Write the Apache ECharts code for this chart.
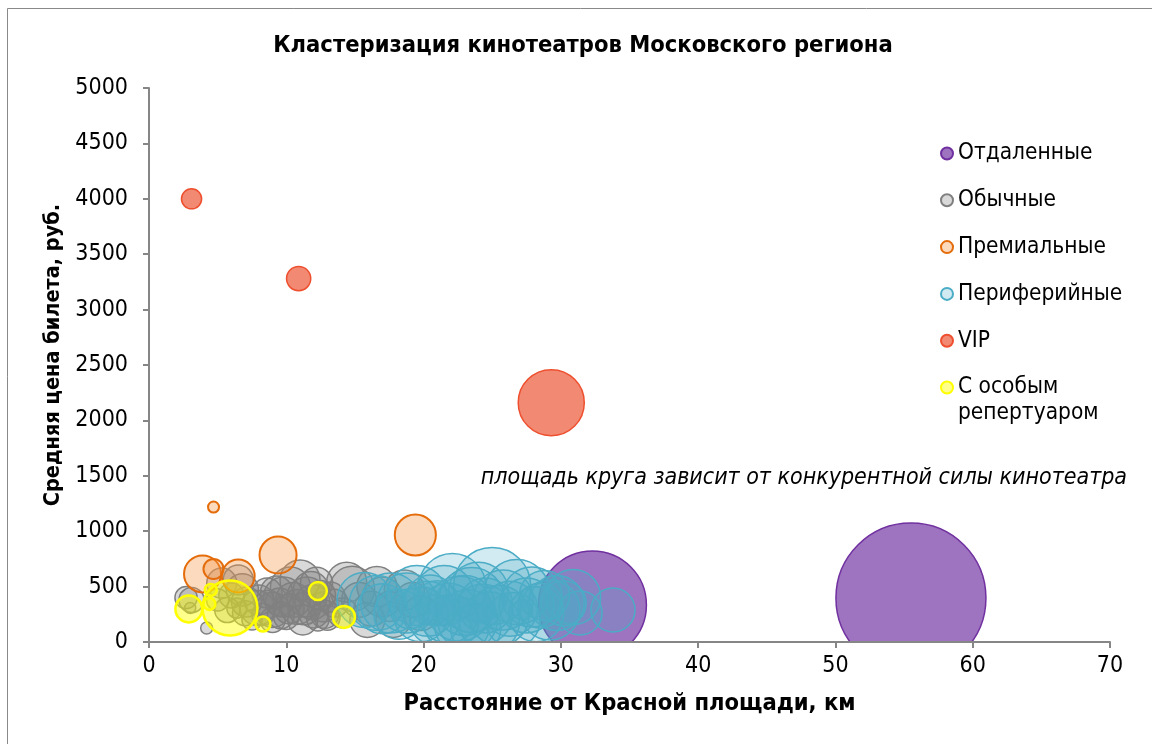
<!DOCTYPE html>
<html>
<head>
<meta charset="utf-8">
<script src="https://cdn.jsdelivr.net/npm/echarts@6/dist/echarts.min.js"></script>
<style>
html,body{margin:0;padding:0;background:#fff;}
#chart{width:1152px;height:744px;}
</style>
</head>
<body>
<div id="chart"></div>
<script>
// [distance km, avg ticket price rub, competitive strength]
const seriesNames = ['Отдаленные', 'Обычные', 'Премиальные', 'Периферийные', 'VIP', 'С особым репертуаром'];

const remote = [[32.3, 334, 51.8], [55.5, 397, 100]];

const ordinary = [
  [2.7, 400, 2.2], [3.1, 379, 2.8], [3.0, 307, 0.54], [4.2, 126, 0.64], [5.3, 532, 4.0], [6.5, 560, 4.0],
  [6.8, 470, 4.6], [7.1, 361, 4.0], [5.7, 289, 2.8], [6.4, 307, 1.8], [7.9, 307, 5.4], [8.6, 442, 4.0],
  [9.0, 289, 5.4], [9.8, 406, 7.1], [9.0, 199, 2.8], [8.3, 250, 2.2], [7.5, 200, 1.8], [10.3, 496, 7.1],
  [11.0, 560, 7.1], [11.5, 406, 7.1], [10.8, 316, 5.4], [12.0, 262, 4.0], [11.2, 199, 4.0], [10.0, 226, 2.8],
  [12.7, 316, 4.0], [13.2, 406, 4.0], [12.3, 200, 2.2], [11.8, 480, 5.4], [14.4, 540, 7.1], [14.8, 480, 9.0],
  [14.1, 262, 4.0], [13.5, 350, 3.5], [16.6, 500, 7.1], [17.0, 406, 7.1], [15.9, 199, 5.4], [17.8, 199, 5.4],
  [18.6, 469, 7.1], [16.2, 300, 5.4], [17.5, 320, 4.0], [19.2, 380, 5.4], [6.0, 420, 2.8], [5.0, 380, 2.2],
  [9.5, 360, 3.5], [12.5, 420, 4.0], [15.3, 380, 5.4], [19.8, 260, 5.4],
  [8.0, 380, 4.0], [9.3, 450, 4.6], [10.5, 380, 5.4], [11.3, 300, 4.6], [12.8, 250, 3.5], [10.2, 300, 4.0],
  [8.7, 340, 3.5], [11.9, 360, 5.4], [13.0, 220, 2.8], [9.6, 240, 3.2], [7.0, 260, 2.8], [12.2, 530, 4.6]
];

const premium = [[4.7, 1218, 0.54], [19.4, 966, 7.5], [9.4, 785, 6.1], [3.9, 614, 6.1], [4.7, 659, 1.8], [6.5, 596, 4.8]];

const peripheral = [
  [15.7, 379, 13.4], [16.6, 352, 13.4], [17.6, 352, 16], [18.8, 352, 16], [18.2, 250, 11.1], [19.5, 420, 16],
  [20.3, 300, 13.4], [20.8, 200, 11.1], [21.5, 420, 16], [22.1, 496, 20], [22.6, 300, 18.8], [23.2, 200, 16],
  [23.5, 380, 18.8], [24.0, 450, 16], [24.3, 250, 16], [25.0, 505, 26.4], [25.8, 380, 16], [26.3, 300, 13.4],
  [26.8, 450, 18.8], [27.2, 289, 1.8], [27.9, 406, 16], [28.2, 250, 13.4], [29.2, 289, 16], [29.7, 352, 13.4],
  [30.9, 406, 13.4], [31.4, 262, 8.6], [33.8, 289, 8.6], [21.0, 350, 9], [22.8, 150, 13.4], [24.8, 180, 16],
  [19.0, 300, 7.1], [30.2, 350, 9], [28.5, 330, 9],
  [17.0, 300, 11.1], [19.8, 250, 13.4], [21.8, 260, 16], [23.0, 330, 16], [24.5, 330, 13.4], [25.5, 240, 16],
  [26.5, 200, 13.4], [27.5, 330, 13.4], [22.0, 180, 13.4], [20.5, 380, 11.1], [28.8, 420, 11.1], [23.8, 120, 11.1]
];

const vip = [[3.1, 4000, 1.8], [10.9, 3280, 2.6], [29.3, 2160, 19.4]];

const special = [[2.9, 298, 3.2], [5.9, 307, 13.4], [4.5, 470, 0.64], [4.4, 343, 0.64], [12.3, 460, 1.44], [8.3, 162, 1], [14.2, 226, 2.15]];

const xTicks = {min: 0, max: 70, interval: 10};
const yTicks = {min: 0, max: 5000, interval: 500};

const FONT = "'DejaVu Sans Condensed', 'DejaVu Sans', sans-serif";
const sizeFn = v => Math.sqrt(v[2]) * 15;

const styles = [
  {color: 'rgba(112,48,160,0.68)', borderColor: '#7030A0', borderWidth: 1.5, opacity: 1},
  {color: 'rgba(128,128,128,0.3)', borderColor: '#808080', borderWidth: 1.5, opacity: 1},
  {color: 'rgba(247,150,70,0.35)', borderColor: '#E46C0A', borderWidth: 2, opacity: 1},
  {color: 'rgba(75,172,198,0.25)', borderColor: '#4BACC6', borderWidth: 1.5, opacity: 1},
  {color: '#F28A73', borderColor: '#EE4F2E', borderWidth: 1.5, opacity: 1},
  {color: 'rgba(255,255,0,0.45)', borderColor: '#FFFF00', borderWidth: 2.5, opacity: 1}
];
const datasets = [remote, ordinary, premium, peripheral, vip, special];

const chart = echarts.init(document.getElementById('chart'));
chart.setOption({
  backgroundColor: '#fff',
  animation: false,
  title: {
    text: 'Кластеризация кинотеатров Московского региона',
    left: 578, top: 29, textAlign: 'center',
    textStyle: {fontFamily: FONT, fontSize: 23.5, fontWeight: 'bold', color: '#000'}
  },
  legend: {
    orient: 'vertical', left: 935, top: 137,
    itemWidth: 12, itemHeight: 12, itemGap: 23.8,
    icon: 'circle',
    data: seriesNames,
    formatter: n => n === 'С особым репертуаром' ? 'С особым' : n,
    textStyle: {fontFamily: FONT, fontSize: 22.5, color: '#000'}
  },
  graphic: [
    {type: 'rect', z: 10, shape: {x: 9, y: 643, width: 1150, height: 110}, style: {fill: '#fff'}, silent: true},
    {type: 'rect', z: 11, shape: {x: 7.5, y: 8.5, width: 1300, height: 900}, style: {fill: 'none', stroke: '#898989', lineWidth: 1}, silent: true},
    {type: 'text', z: 11, x: 958, y: 413, style: {text: 'репертуаром', font: "22.5px " + FONT, fill: '#000', verticalAlign: 'middle'}},
    {type: 'text', z: 11, x: 1127, y: 478, style: {text: 'площадь круга зависит от конкурентной силы кинотеатра', font: "italic 23px " + FONT, fill: '#000', align: 'right', verticalAlign: 'middle'}}
  ],
  grid: {left: 149, right: 42, top: 88, bottom: 102},
  xAxis: {
    type: 'value', min: xTicks.min, max: xTicks.max, interval: xTicks.interval, z: 20,
    name: 'Расстояние от Красной площади, км', nameLocation: 'middle', nameGap: 50,
    nameTextStyle: {fontFamily: FONT, fontSize: 23.5, fontWeight: 'bold', color: '#000'},
    axisLine: {lineStyle: {color: '#868686', width: 2}},
    axisTick: {show: true, length: 6, lineStyle: {color: '#868686', width: 2}},
    axisLabel: {fontFamily: FONT, fontSize: 23, color: '#000', margin: 13, formatter: v => String(v)},
    splitLine: {show: false}
  },
  yAxis: {
    type: 'value', min: yTicks.min, max: yTicks.max, interval: yTicks.interval, z: 20,
    name: 'Средняя цена билета, руб.', nameLocation: 'middle', nameGap: 83,
    nameTextStyle: {fontFamily: FONT, fontSize: 21.5, fontWeight: 'bold', color: '#000', padding: [0, 0, 0, 20]},
    axisLine: {show: true, lineStyle: {color: '#868686', width: 2}},
    axisTick: {show: true, length: 6, lineStyle: {color: '#868686', width: 2}},
    axisLabel: {fontFamily: FONT, fontSize: 23, color: '#000', margin: 21, formatter: v => String(v)},
    splitLine: {show: false}
  },
  series: seriesNames.map((name, i) => ({
    name, type: 'scatter', data: datasets[i], symbolSize: sizeFn, clip: true,
    itemStyle: styles[i], emphasis: {disabled: true}, z: 2 + i
  }))
});
</script>
</body>
</html>
